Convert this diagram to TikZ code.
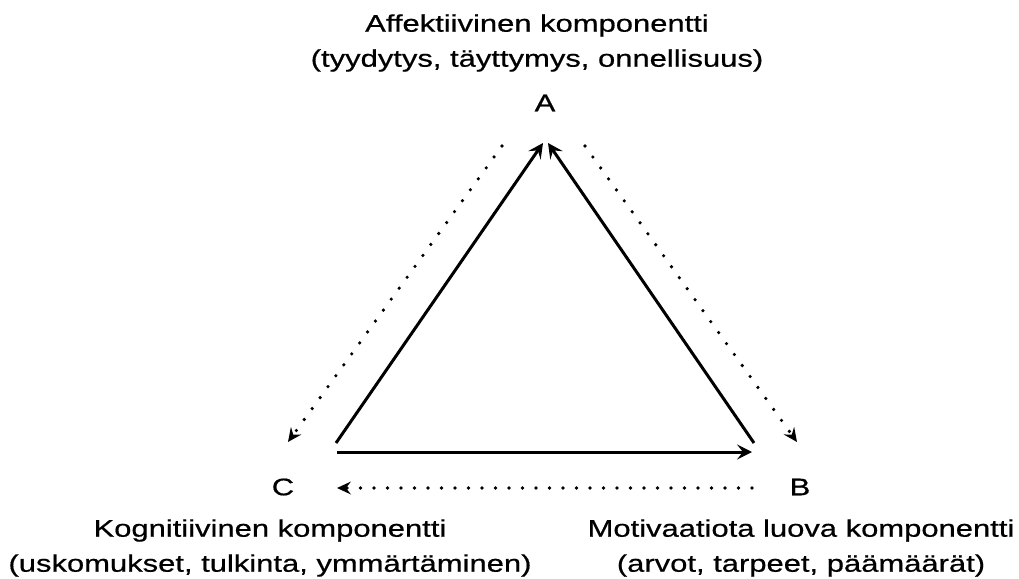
\documentclass[tikz,border=0pt]{standalone}
\usepackage{fontspec}
\setmainfont{Liberation Sans}[FakeStretch=1.29,FakeBold=0.6]
\usetikzlibrary{arrows.meta}
\begin{document}
\begin{tikzpicture}[x=1pt,y=-1pt,
  lbl/.style={font=\fontsize{24}{35}\selectfont, inner sep=0pt, align=center},
  solidarr/.style={line width=3pt, -{Stealth[length=15pt,width=15pt,inset=6pt]}},
  dotarr/.style={line width=3.6pt, line cap=round, dash pattern=on 0pt off 13.5pt,
    -{Stealth[length=14pt,width=13pt,inset=5pt,line width=0pt,line cap=butt]}},
]
\useasboundingbox (0,0) rectangle (1019,578);

% vertex letters
\node[lbl] (A) at (545,103) {A};
\node[lbl] (B) at (800,487) {B};
\node[lbl] (C) at (283,487) {C};

% component descriptions
\node[lbl] (tA) at (537,43) {Affektiivinen komponentti\\(tyydytys, täyttymys, onnellisuus)};
\node[lbl] (tC) at (270,548) {Kognitiivinen komponentti\\(uskomukset, tulkinta, ymmärtäminen)};
\node[lbl] (tB) at (801,548) {Motivaatiota luova komponentti\\(arvot, tarpeet, päämäärät)};

% corners of the solid triangle
\coordinate (sAl) at (543,143);
\coordinate (sAr) at (548,143);
\coordinate (sCu) at (336,443);
\coordinate (sCl) at (337,452);
\coordinate (sBu) at (754,443);
\coordinate (sBl) at (752,452);

% ends of the dotted return arrows
\coordinate (dAl) at (502,146);
\coordinate (dAr) at (585,146);
\coordinate (dC)  at (288,442);
\coordinate (dB)  at (797,442);
\coordinate (dBb) at (752,488);
\coordinate (dCb) at (337,488);

\draw[solidarr] (sCu) -- (sAl);
\draw[solidarr] (sBu) -- (sAr);
\draw[solidarr] (sCl) -- (sBl);

\draw[dotarr] (dAl) -- (dC);
\draw[dotarr] (dAr) -- (dB);
\draw[dotarr] (dBb) -- (dCb);
\end{tikzpicture}
\end{document}
